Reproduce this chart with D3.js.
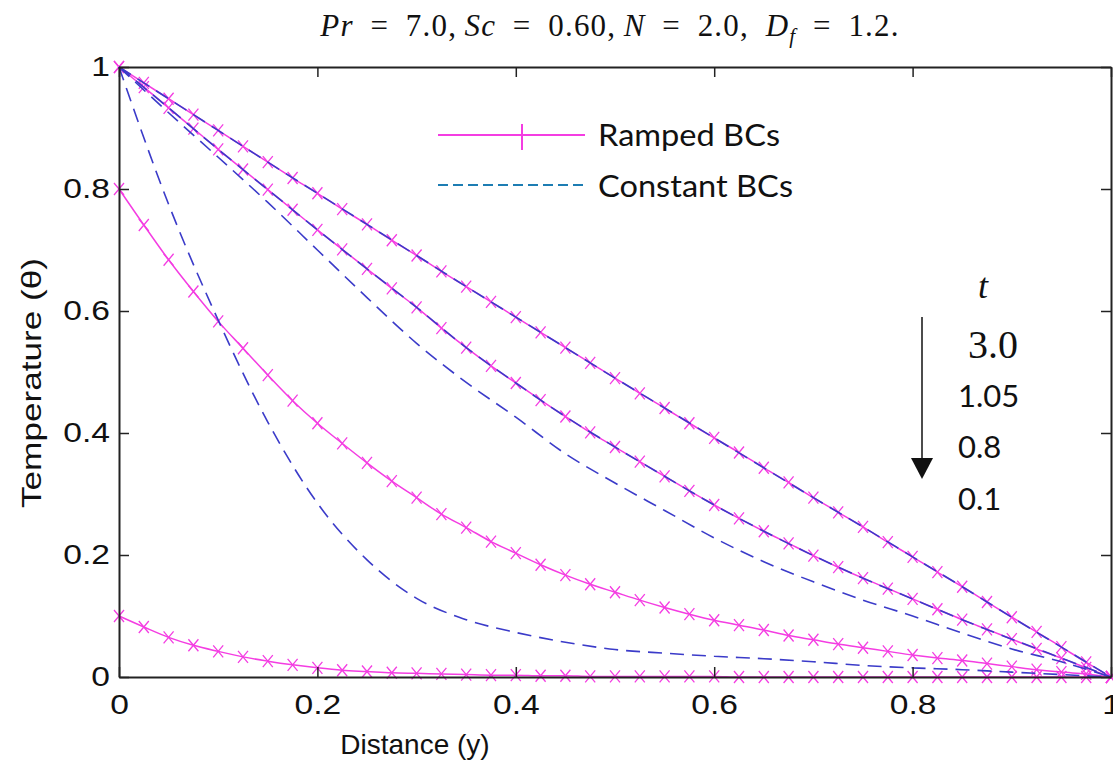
<!DOCTYPE html>
<html>
<head>
<meta charset="utf-8">
<script src="https://cdn.jsdelivr.net/npm/d3@7"></script>
<style>
  body { margin: 0; background: #fff; }
  svg { display: block; }
</style>
</head>
<body>
<svg id="chart" width="1113" height="764"></svg>
<script>
// sample grid of the ramped curves (one marker per point)
const xGrid = [0, 0.025, 0.05, 0.075, 0.1, 0.125, 0.15, 0.175, 0.2, 0.225, 0.25, 0.275, 0.3, 0.325, 0.35, 0.375,
  0.4, 0.425, 0.45, 0.475, 0.5, 0.525, 0.55, 0.575, 0.6, 0.625, 0.65, 0.675, 0.7, 0.725, 0.75, 0.775,
  0.8, 0.825, 0.85, 0.875, 0.9, 0.925, 0.95, 0.975, 1];

// Ramped BCs, one array per t
const rampT30 = [1.000, 0.974, 0.948, 0.922, 0.896, 0.870, 0.844, 0.818, 0.793, 0.767, 0.742, 0.716, 0.691, 0.665, 0.640, 0.615,
  0.590, 0.565, 0.540, 0.515, 0.490, 0.465, 0.441, 0.416, 0.392, 0.368, 0.343, 0.319, 0.294, 0.270, 0.246, 0.221,
  0.197, 0.172, 0.148, 0.123, 0.098, 0.074, 0.049, 0.024, 0];
const rampT105 = [1.000, 0.967, 0.933, 0.899, 0.865, 0.832, 0.799, 0.766, 0.733, 0.701, 0.669, 0.637, 0.606, 0.572, 0.540, 0.510,
  0.482, 0.454, 0.427, 0.401, 0.377, 0.353, 0.329, 0.305, 0.282, 0.260, 0.239, 0.219, 0.199, 0.180, 0.162, 0.145,
  0.128, 0.111, 0.094, 0.078, 0.062, 0.046, 0.031, 0.015, 0];
const rampT08 = [0.800, 0.741, 0.684, 0.632, 0.583, 0.539, 0.495, 0.453, 0.416, 0.383, 0.351, 0.321, 0.294, 0.267, 0.245, 0.222,
  0.203, 0.184, 0.167, 0.152, 0.139, 0.126, 0.114, 0.103, 0.093, 0.085, 0.077, 0.068, 0.061, 0.054, 0.048, 0.042,
  0.036, 0.031, 0.027, 0.022, 0.017, 0.012, 0.008, 0.005, 0];
const rampT01 = [0.100, 0.082, 0.065, 0.052, 0.042, 0.033, 0.026, 0.020, 0.015, 0.011, 0.009, 0.007, 0.006, 0.005, 0.004, 0.003,
  0.003, 0.002, 0.002, 0.001, 0.001, 0.001, 0.001, 0.001, 0.001, 0, 0, 0, 0, 0, 0, 0,
  0, 0, 0, 0, 0, 0, 0, 0, 0];

// Constant BCs
const xConst = [0, 0.05, 0.1, 0.15, 0.2, 0.25, 0.3, 0.35, 0.4, 0.45, 0.5, 0.55, 0.6, 0.65, 0.7, 0.75, 0.8, 0.85, 0.9, 0.95, 1];
const constT30 = [1.0, 0.948, 0.896, 0.844, 0.793, 0.742, 0.691, 0.640, 0.590, 0.540, 0.490, 0.441, 0.392, 0.343, 0.294, 0.246, 0.197, 0.148, 0.098, 0.049, 0];
const constT105 = [1.0, 0.933, 0.865, 0.799, 0.733, 0.669, 0.606, 0.540, 0.482, 0.427, 0.377, 0.329, 0.282, 0.239, 0.199, 0.162, 0.128, 0.094, 0.062, 0.031, 0];
const constT08 = [1.0, 0.925, 0.852, 0.778, 0.700, 0.622, 0.547, 0.483, 0.426, 0.366, 0.318, 0.273, 0.228, 0.189, 0.156, 0.126, 0.100, 0.072, 0.046, 0.025, 0];
const constT01 = [1.0, 0.775, 0.585, 0.418, 0.285, 0.192, 0.129, 0.094, 0.073, 0.057, 0.045, 0.039, 0.034, 0.030, 0.025, 0.019, 0.015, 0.012, 0.008, 0.004, 0];

const xTicks = [0, 0.2, 0.4, 0.6, 0.8, 1];
const yTicks = [0, 0.2, 0.4, 0.6, 0.8, 1];
const tLabels = ["3.0", "1.05", "0.8", "0.1"];

const pink = "#f43de2";
const blue = "#3b3bc9";
const stretch = 1.2;   // tick labels of the original look widened

const svg = d3.select("#chart");
const margin = {top: 67, right: 2, bottom: 87, left: 119};
const width = 1113 - margin.left - margin.right;
const height = 764 - margin.top - margin.bottom;

const x = d3.scaleLinear().domain([0, 1]).range([margin.left, margin.left + width]);
const y = d3.scaleLinear().domain([0, 1]).range([margin.top + height, margin.top]);

// curves
const plot = svg.append("g");
const rampLine = d3.line().x((d, i) => x(xGrid[i])).y(d => y(d)).curve(d3.curveMonotoneX);
const constLine = d3.line().x((d, i) => x(xConst[i])).y(d => y(d)).curve(d3.curveMonotoneX);

[rampT30, rampT105, rampT08, rampT01].forEach(s => {
  plot.append("path").attr("d", rampLine(s))
    .attr("fill", "none").attr("stroke", pink).attr("stroke-width", 1.5);
  plot.append("g").selectAll("path.mk").data(s).enter().append("path")
    .attr("class", "mk")
    .attr("transform", (d, i) => `translate(${x(xGrid[i])},${y(d)})`)
    .attr("d", "M-5,-6L5,6M-5,6L5,-6")
    .attr("stroke", pink).attr("stroke-width", 1.3);
});

[constT30, constT105, constT08, constT01].forEach(s => {
  plot.append("path").attr("d", constLine(s))
    .attr("fill", "none").attr("stroke", blue).attr("stroke-width", 1.6)
    .attr("stroke-dasharray", "14,8");
});

// axes, ticks inside on all four sides
const xAxisB = d3.axisBottom(x).tickValues(xTicks).tickFormat(d3.format("~g")).tickSizeInner(-10).tickSizeOuter(0).tickPadding(17);
const xAxisT = d3.axisTop(x).tickValues(xTicks).tickFormat("").tickSizeInner(-10).tickSizeOuter(0);
const yAxisL = d3.axisLeft(y).tickValues(yTicks).tickFormat(d3.format("~g")).tickSizeInner(-10).tickSizeOuter(0).tickPadding(9);
const yAxisR = d3.axisRight(y).tickValues(yTicks).tickFormat("").tickSizeInner(-10).tickSizeOuter(0);

const gxB = svg.append("g").attr("transform", `translate(0,${margin.top + height})`).call(xAxisB);
svg.append("g").attr("transform", `translate(0,${margin.top})`).call(xAxisT);
const gyL = svg.append("g").attr("transform", `translate(${margin.left},0)`).call(yAxisL);
svg.append("g").attr("transform", `translate(${margin.left + width},0)`).call(yAxisR);

svg.selectAll(".domain").attr("stroke", "#222").attr("stroke-width", 2);
svg.selectAll(".tick line").attr("stroke", "#222").attr("stroke-width", 1.5);
svg.selectAll(".tick text")
  .attr("font-family", "'Liberation Sans', Arial, sans-serif")
  .attr("font-size", 28).attr("fill", "#111");
gxB.selectAll(".tick text").attr("transform", `scale(${stretch},1)`);
gyL.selectAll(".tick text").attr("transform", `scale(${stretch},1)`).attr("x", -9 / stretch);

// axis titles
svg.append("text")
  .attr("x", 415).attr("y", 754)
  .attr("text-anchor", "middle")
  .attr("font-family", "'Liberation Sans', Arial, sans-serif")
  .attr("font-size", 28).attr("fill", "#111")
  .text("Distance (y)");
svg.append("text")
  .attr("transform", "translate(41,383) rotate(-90)")
  .attr("text-anchor", "middle")
  .attr("font-family", "'Liberation Sans', Arial, sans-serif")
  .attr("font-size", 28).attr("fill", "#111")
  .attr("textLength", 250).attr("lengthAdjust", "spacingAndGlyphs")
  .text("Temperature (θ)");

// title, math-style spacing around "="
const title = svg.append("text")
  .attr("x", 610).attr("y", 36)
  .attr("text-anchor", "middle")
  .attr("font-family", "'Liberation Serif', 'DejaVu Serif', serif")
  .attr("font-size", 31).attr("letter-spacing", 1.2).attr("fill", "#111");
const eq = "\u2002=\u2002";
[["Pr", true], [eq + "7.0,\u2009", false], ["Sc", true], [eq + "0.60,\u2009", false], ["N", true], [eq + "2.0,\u2002", false], ["D", true]]
  .forEach(([s, it]) => title.append("tspan").attr("font-style", it ? "italic" : "normal").text(s));
title.append("tspan").attr("font-style", "italic").attr("font-size", 21).attr("dy", 7).text("f");
title.append("tspan").attr("dy", -7).text(eq + "1.2.");

// legend
const legend = svg.append("g");
legend.append("line").attr("x1", 438).attr("x2", 585).attr("y1", 135).attr("y2", 135)
  .attr("stroke", pink).attr("stroke-width", 2);
legend.append("line").attr("x1", 522).attr("x2", 522).attr("y1", 124).attr("y2", 150)
  .attr("stroke", pink).attr("stroke-width", 2);
legend.append("line").attr("x1", 438).attr("x2", 585).attr("y1", 185).attr("y2", 185)
  .attr("stroke", "#1d7db3").attr("stroke-width", 2).attr("stroke-dasharray", "10,5");
legend.append("text").attr("x", 598).attr("y", 146)
  .attr("font-family", "Lato, 'Open Sans', sans-serif").attr("font-size", 30).attr("fill", "#111")
  .attr("textLength", 182).attr("lengthAdjust", "spacingAndGlyphs")
  .text("Ramped BCs");
legend.append("text").attr("x", 598).attr("y", 197)
  .attr("font-family", "Lato, 'Open Sans', sans-serif").attr("font-size", 30).attr("fill", "#111")
  .attr("textLength", 195).attr("lengthAdjust", "spacingAndGlyphs")
  .text("Constant BCs");

// t annotation
const ann = svg.append("g");
ann.append("text").attr("x", 983).attr("y", 298).attr("text-anchor", "middle")
  .attr("font-family", "'Liberation Serif', serif").attr("font-style", "italic")
  .attr("font-size", 36).attr("fill", "#111").text("t");
ann.append("line").attr("x1", 922).attr("x2", 922).attr("y1", 317).attr("y2", 462)
  .attr("stroke", "#111").attr("stroke-width", 1.5);
ann.append("path").attr("d", "M911,458L933,458L922,479Z").attr("fill", "#111");
const labelBase = [358, 407, 458, 510];
tLabels.forEach((s, i) => {
  ann.append("text")
    .attr("x", i === 0 ? 968 : 958).attr("y", labelBase[i])
    .attr("font-family", i === 0 ? "'Liberation Serif', serif" : "Lato, 'Open Sans', sans-serif")
    .attr("font-size", i === 0 ? 40 : 31).attr("fill", "#111")
    .text(s);
});
</script>
</body>
</html>
